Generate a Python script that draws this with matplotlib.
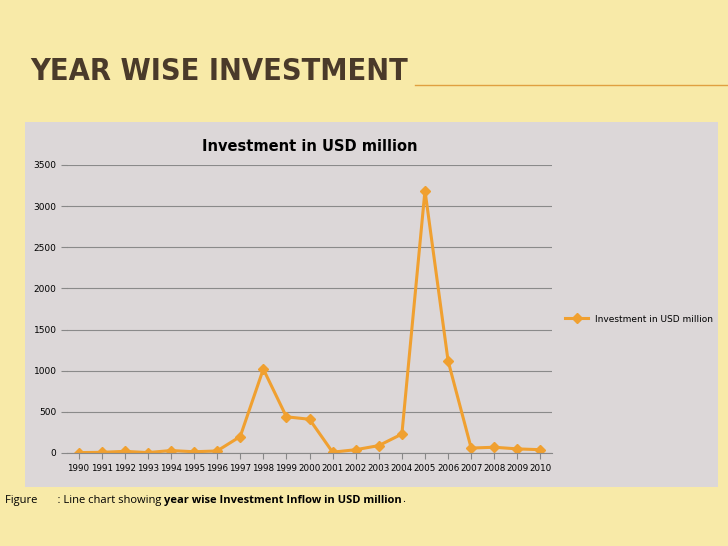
import matplotlib.pyplot as plt
from matplotlib.lines import Line2D

years = [str(y) for y in range(1990, 2011)]
investment = [5, 8, 20, 5, 30, 15, 25, 200, 1020, 440, 410, 10, 40, 90, 230,
              3190, 1120, 60, 70, 50, 40]
yticks = [0, 500, 1000, 1500, 2000, 2500, 3000, 3500]

ORANGE = "#f0a030"

fig = plt.figure(figsize=(7.28, 5.46), dpi=100)
fig.patch.set_facecolor("#f8eaa8")

# chart panel as a background axes
bg = fig.add_axes([25 / 728, 1 - 487 / 546, 693 / 728, 365 / 546], zorder=0)
bg.set_facecolor("#dcd7d8")
bg.set_xticks([])
bg.set_yticks([])
for s in bg.spines.values():
    s.set_visible(False)

fig.text(30 / 728, 1 - 72 / 546, "YEAR WISE INVESTMENT", fontsize=22,
         fontweight="bold", color="#4a3a2a", family="DejaVu Sans",
         fontstretch="condensed", va="center")
fig.add_artist(Line2D([415 / 728, 1], [1 - 85 / 546, 1 - 85 / 546],
                      color="#e0a040", lw=1, transform=fig.transFigure))

ax = fig.add_axes([67 / 728, 1 - 453 / 546, 485 / 728, 288 / 546], zorder=1)
ax.set_facecolor("none")
x = list(range(len(years)))
ax.plot(x, investment, color=ORANGE, lw=2.2, marker="D", ms=5,
        label="Investment in USD million")
ax.set_xlim(-0.5, len(years) - 0.5)
ax.set_ylim(0, 3500)
ax.set_yticks(yticks)
ax.set_xticks(x)
ax.set_xticklabels(years, fontsize=6.3)
ax.tick_params(axis="y", labelsize=6.5, length=4, color="#888888")
ax.tick_params(axis="x", length=4, color="#888888", pad=4)
ax.yaxis.grid(True, color="#8a8a8a", lw=0.8)
ax.set_axisbelow(True)
for s in ["top", "right", "left"]:
    ax.spines[s].set_visible(False)
ax.spines["bottom"].set_color("#888888")
ax.set_title("Investment in USD million", fontsize=10.5, fontweight="bold",
             pad=10)
ax.legend(loc="center left", bbox_to_anchor=(1.02, 0.465), frameon=False,
          fontsize=6.5, handlelength=2.5, borderaxespad=0)

# caption: plain part, bold part, period placed one after another
fig.canvas.draw()
r = fig.canvas.get_renderer()
ypos = 1 - 500 / 546
t1 = fig.text(5 / 728, ypos, "Figure       : Line chart showing ", fontsize=8,
              va="center", family="Open Sans")
x1 = t1.get_window_extent(r).x1 / 728
t2 = fig.text(x1, ypos, "year wise Investment Inflow in USD million",
              fontsize=8, fontweight="bold", va="center", family="Open Sans")
x2 = t2.get_window_extent(r).x1 / 728
fig.text(x2, ypos, ".", fontsize=8, va="center", family="Open Sans")

fig.savefig("out.png", dpi=100, facecolor=fig.get_facecolor())
